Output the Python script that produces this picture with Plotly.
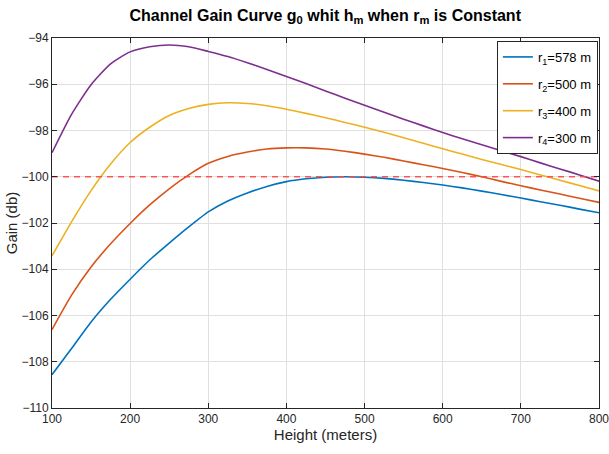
import plotly.graph_objects as go

heights = [100, 125, 150, 175, 200, 225, 250, 275, 300, 325, 350, 375, 400, 425, 450, 475, 500,
           525, 550, 575, 600, 625, 650, 675, 700, 725, 750, 775, 800]
gain_r1 = [-108.56, -107.43, -106.28, -105.30, -104.43, -103.60, -102.87, -102.17, -101.52, -101.05,
           -100.70, -100.42, -100.21, -100.09, -100.02, -100.00, -100.02, -100.07, -100.15, -100.25,
           -100.36, -100.48, -100.62, -100.77, -100.92, -101.08, -101.23, -101.40, -101.56]
gain_r2 = [-106.61, -105.12, -103.90, -102.90, -102.02, -101.22, -100.52, -99.92, -99.42, -99.12,
           -98.93, -98.80, -98.75, -98.75, -98.80, -98.90, -99.02, -99.16, -99.32, -99.48,
           -99.64, -99.82, -100.00, -100.20, -100.39, -100.57, -100.75, -100.93, -101.11]
gain_r3 = [-103.42, -101.95, -100.60, -99.45, -98.52, -97.86, -97.35, -97.05, -96.87, -96.80,
           -96.83, -96.93, -97.08, -97.26, -97.45, -97.65, -97.86, -98.08, -98.31, -98.55,
           -98.79, -99.02, -99.25, -99.47, -99.69, -99.92, -100.15, -100.38, -100.61]
gain_r4 = [-98.96, -97.30, -96.02, -95.12, -94.60, -94.38, -94.30, -94.38, -94.58, -94.80,
           -95.07, -95.36, -95.66, -95.97, -96.29, -96.60, -96.91, -97.21, -97.51, -97.80,
           -98.09, -98.36, -98.62, -98.88, -99.13, -99.40, -99.66, -99.92, -100.19]
threshold_x = [100, 800]
threshold_y = [-100, -100]

names = ["r<sub>1</sub>=578 m", "r<sub>2</sub>=500 m", "r<sub>3</sub>=400 m", "r<sub>4</sub>=300 m"]
colors = ["#0072BD", "#D95319", "#EDB120", "#7E2F8E"]
series = [gain_r1, gain_r2, gain_r3, gain_r4]
x_ticks = [100, 200, 300, 400, 500, 600, 700, 800]
y_ticks = [-110, -108, -106, -104, -102, -100, -98, -96, -94]

FONT = "Liberation Sans Narrow, Liberation Sans, Arial, sans-serif"

fig = go.Figure()
for i, (nm, col, ys) in enumerate(zip(names, colors, series)):
    fig.add_trace(go.Scatter(x=heights, y=ys, mode="lines", name=nm, legendgroup=f"g{i}",
                             line=dict(color=col, width=1.6, shape="spline", smoothing=0.6)))
fig.add_trace(go.Scatter(x=threshold_x, y=threshold_y, mode="lines", showlegend=False,
                         line=dict(color="rgba(255,70,70,0.9)", width=1.6, dash="6px,5px")))

axis_common = dict(showline=True, linecolor="#262626", linewidth=1, mirror="ticks",
                   ticks="inside", ticklen=5, tickcolor="#262626", automargin=False,
                   showgrid=True, gridcolor="#E0E0E0", gridwidth=1, zeroline=False,
                   tickfont=dict(family=FONT, size=12, color="#262626"))

fig.update_layout(
    width=609, height=454,
    margin=dict(l=52, r=10, t=38, b=46),
    paper_bgcolor="white", plot_bgcolor="white",
    title=dict(text="<b>Channel Gain Curve g<sub>0</sub> whit h<sub>m</sub> when r<sub>m</sub> is Constant</b>",
               x=0.534, xanchor="center", y=0.967, yanchor="middle",
               font=dict(family=FONT, size=16, color="black")),
    xaxis=dict(range=[100, 800], tickvals=x_ticks, ticklabeloverflow="allow",
               title=dict(text="Height (meters)", font=dict(family=FONT, size=15, color="#262626"), standoff=4),
               **axis_common),
    yaxis=dict(range=[-110, -94], tickvals=y_ticks,
               title=dict(text="Gain (db)", font=dict(family=FONT, size=15, color="#262626"), standoff=0),
               **axis_common),
    legend=dict(x=0.998, y=0.992, xanchor="right", yanchor="top",
                bgcolor="white", bordercolor="#262626", borderwidth=1,
                font=dict(family=FONT, size=13, color="black"),
                itemwidth=30, tracegroupgap=7),
    showlegend=True,
)

fig.write_html("out.html", config={"displayModeBar": False},
               post_script="document.body.style.margin='0';document.body.style.overflow='hidden';")
